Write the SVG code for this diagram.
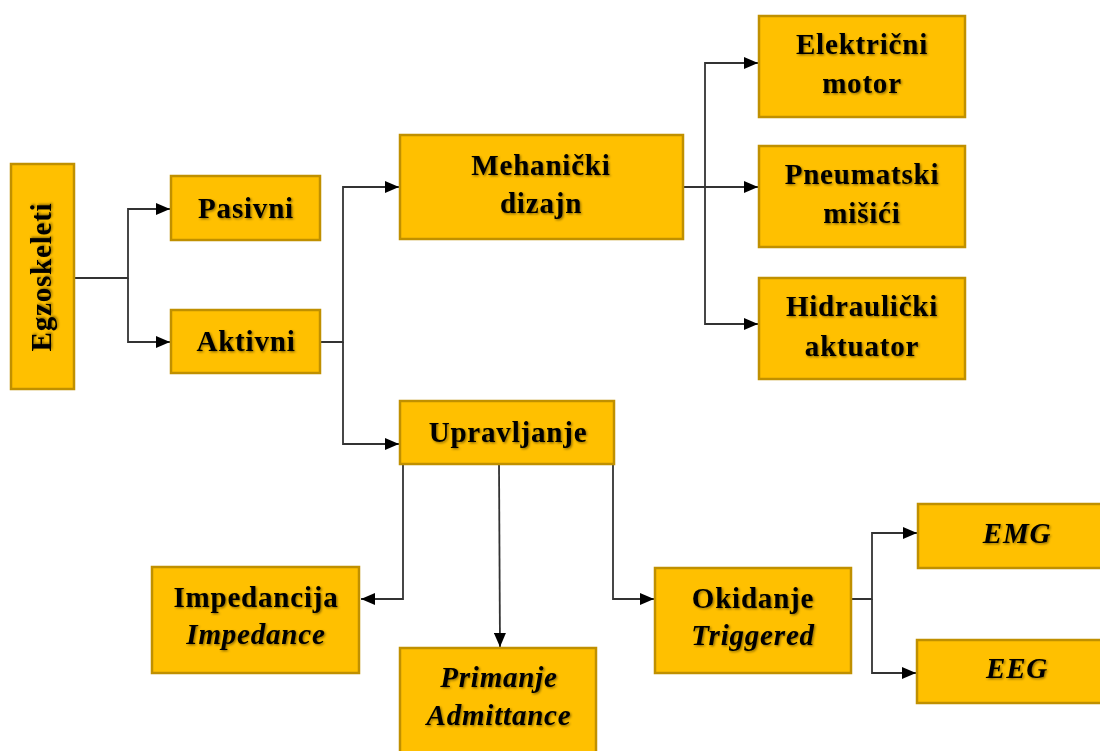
<svg xmlns="http://www.w3.org/2000/svg" width="1100" height="751" viewBox="0 0 1100 751">
<defs>
<marker id="arr" viewBox="0 0 14 12" refX="14" refY="6" markerWidth="14" markerHeight="12" markerUnits="userSpaceOnUse" orient="auto">
<path d="M0,0 L14,6 L0,12 Z" fill="#000"/>
</marker>
<filter id="sh" x="-10%" y="-20%" width="120%" height="150%">
<feDropShadow dx="1.2" dy="1.2" stdDeviation="1" flood-color="#000" flood-opacity="0.45"/>
</filter>
</defs>
<style>
.box{fill:#FFC000;stroke:#C09000;stroke-width:2.5}
.t{font-family:"Liberation Serif","Times New Roman",serif;font-weight:bold;font-size:29px;letter-spacing:0.8px;fill:#000;text-anchor:middle;filter:url(#sh)}
.i{font-style:italic}
.c{fill:none;stroke:#333;stroke-width:1.8}
</style>
<rect width="1100" height="751" fill="#fff"/>
<g id="connectors">
<path class="c" d="M74,278 H128 V209 H170" marker-end="url(#arr)"/>
<path class="c" d="M128,278 V342 H170" marker-end="url(#arr)"/>
<path class="c" d="M320,342 H343 V187 H399" marker-end="url(#arr)"/>
<path class="c" d="M343,342 V444 H399" marker-end="url(#arr)"/>
<path class="c" d="M683,187 H758" marker-end="url(#arr)"/>
<path class="c" d="M705,187 V63 H758" marker-end="url(#arr)"/>
<path class="c" d="M705,187 V324 H758" marker-end="url(#arr)"/>
<path class="c" d="M420,464 H403 V599 H361" marker-end="url(#arr)"/>
<path class="c" d="M499,464 L500,647" marker-end="url(#arr)"/>
<path class="c" d="M596,464 H613 V599 H654" marker-end="url(#arr)"/>
<path class="c" d="M851,599 H872 V533 H917" marker-end="url(#arr)"/>
<path class="c" d="M872,599 V673 H916" marker-end="url(#arr)"/>
</g>
<g id="egzoskeleti"><rect class="box" x="11" y="164" width="63" height="225"/><text class="t" transform="translate(51,277) rotate(-90)">Egzoskeleti</text></g>
<g id="pasivni"><rect class="box" x="171" y="176" width="149" height="64"/><text class="t" x="246" y="218">Pasivni</text></g>
<g id="aktivni"><rect class="box" x="171" y="310" width="149" height="63"/><text class="t" x="246" y="351">Aktivni</text></g>
<g id="mehanicki"><rect class="box" x="400" y="135" width="283" height="104"/><text class="t" x="541" y="175">Mehanički</text><text class="t" x="541" y="213">dizajn</text></g>
<g id="elektricni"><rect class="box" x="759" y="16" width="206" height="101"/><text class="t" x="862" y="54">Električni</text><text class="t" x="862" y="93">motor</text></g>
<g id="pneumatski"><rect class="box" x="759" y="146" width="206" height="101"/><text class="t" x="862" y="184">Pneumatski</text><text class="t" x="862" y="223">mišići</text></g>
<g id="hidraulicki"><rect class="box" x="759" y="278" width="206" height="101"/><text class="t" x="862" y="316">Hidraulički</text><text class="t" x="862" y="356">aktuator</text></g>
<g id="upravljanje"><rect class="box" x="400" y="401" width="214" height="63"/><text class="t" x="508" y="442">Upravljanje</text></g>
<g id="impedancija"><rect class="box" x="152" y="567" width="207" height="106"/><text class="t" x="256" y="607">Impedancija</text><text class="t i" x="256" y="644">Impedance</text></g>
<g id="primanje"><rect class="box" x="400" y="648" width="196" height="110"/><text class="t i" x="499" y="687">Primanje</text><text class="t i" x="499" y="725">Admittance</text></g>
<g id="okidanje"><rect class="box" x="655" y="568" width="196" height="105"/><text class="t" x="753" y="608">Okidanje</text><text class="t i" x="753" y="645">Triggered</text></g>
<g id="emg"><rect class="box" x="918" y="504" width="190" height="64"/><text class="t i" x="1017" y="543">EMG</text></g>
<g id="eeg"><rect class="box" x="917" y="640" width="190" height="63"/><text class="t i" x="1017" y="678">EEG</text></g>
</svg>
